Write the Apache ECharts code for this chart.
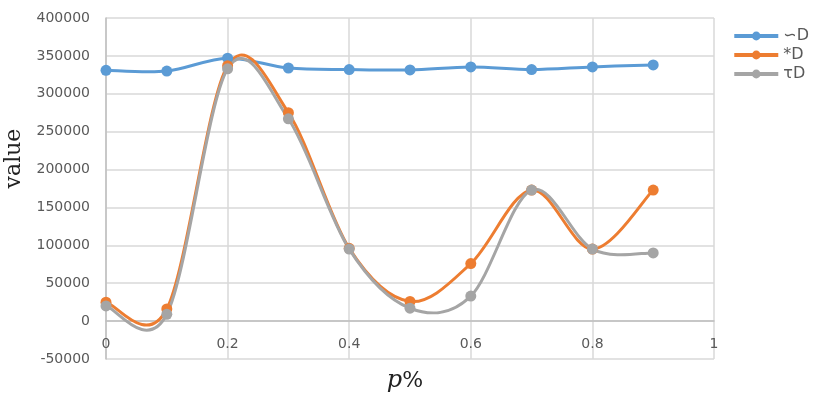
<!DOCTYPE html>
<html>
<head>
<meta charset="utf-8">
<script src="https://cdn.jsdelivr.net/npm/echarts@6/dist/echarts.min.js"></script>
<style>
  html, body { margin: 0; padding: 0; background: #fff; }
  #chart { width: 814px; height: 399px; }
</style>
</head>
<body>
<div id="chart"></div>
<script>
  // x positions (p%)
  var pValues = [0, 0.1, 0.2, 0.3, 0.4, 0.5, 0.6, 0.7, 0.8, 0.9];
  var simD = [331000, 330000, 347000, 334000, 332000, 331500, 335500, 332000, 335500, 338000];
  var starD = [25000, 16000, 337000, 275000, 96000, 26000, 76000, 173000, 95000, 173000];
  var tauD = [20000, 9000, 333000, 267000, 95000, 17000, 33000, 173000, 95000, 90000];
  var seriesNames = ['∽D', '*D', 'τD'];
  var colors = ['#5B9BD5', '#ED7D31', '#A5A5A5'];

  function pairs(ys) {
    return pValues.map(function (x, i) { return [x, ys[i]]; });
  }

  // excel style smoothed line: one bezier per segment, control points from neighbours
  function curveSeries(ys, color) {
    var n = ys.length;
    return {
      type: 'custom',
      name: 'curve',
      silent: true,
      data: pairs(ys),
      renderItem: function (params, api) {
        var i = params.dataIndex;
        if (i >= n - 1) return null;
        var pt = function (j) {
          j = Math.max(0, Math.min(n - 1, j));
          return api.coord([pValues[j], ys[j]]);
        };
        var p0 = pt(i - 1), p1 = pt(i), p2 = pt(i + 1), p3 = pt(i + 2);
        return {
          type: 'bezierCurve',
          shape: {
            x1: p1[0], y1: p1[1],
            cpx1: p1[0] + (p2[0] - p0[0]) / 6, cpy1: p1[1] + (p2[1] - p0[1]) / 6,
            cpx2: p2[0] - (p3[0] - p1[0]) / 6, cpy2: p2[1] - (p3[1] - p1[1]) / 6,
            x2: p2[0], y2: p2[1]
          },
          style: { stroke: color, lineWidth: 3, fill: null, lineCap: 'round' }
        };
      }
    };
  }

  var chart = echarts.init(document.getElementById('chart'));
  var allSeries = [];
  [simD, starD, tauD].forEach(function (ys, i) {
    allSeries.push(curveSeries(ys, colors[i]));
    allSeries.push({
      name: seriesNames[i],
      type: 'line',
      symbol: 'circle',
      symbolSize: 11,
      itemStyle: { color: colors[i] },
      lineStyle: { width: 3, opacity: 0 },
      data: pairs(ys)
    });
  });

  chart.setOption({
    animation: false,
    color: colors,
    grid: { left: 106, right: 100, top: 18, bottom: 40, outerBoundsMode: 'none' },
    legend: {
      orient: 'vertical',
      right: 0,
      top: 23,
      width: 84,
      itemWidth: 44,
      itemHeight: 11,
      itemGap: 3,
      lineStyle: { width: 4, opacity: 1 },
      textStyle: { fontSize: 16, color: '#595959', fontFamily: 'DejaVu Sans' },
      data: seriesNames.map(function (s, i) {
        return { name: s, lineStyle: { color: colors[i], width: 4, opacity: 1 } };
      })
    },
    xAxis: {
      type: 'value',
      min: 0,
      max: 1,
      interval: 0.2,
      name: '{i|p}{n|%}',
      nameLocation: 'middle',
      nameGap: 10,
      nameMoveOverlap: false,
      nameTextStyle: {
        padding: [0, 10, 0, 0],
        rich: {
          i: { fontFamily: 'DejaVu Serif', fontStyle: 'italic', fontSize: 24, color: '#222' },
          n: { fontFamily: 'DejaVu Serif', fontSize: 22, color: '#222' }
        }
      },
      axisLine: { onZero: true, lineStyle: { color: '#bfbfbf', width: 1.5 } },
      axisTick: { show: false },
      axisLabel: { color: '#595959', fontSize: 14, fontFamily: 'DejaVu Sans', margin: -22 },
      splitLine: { lineStyle: { color: '#d9d9d9', width: 1.5 } }
    },
    yAxis: {
      type: 'value',
      min: -50000,
      max: 400000,
      interval: 50000,
      name: 'value',
      nameLocation: 'middle',
      nameGap: 76,
      nameTextStyle: { fontFamily: 'DejaVu Serif', fontSize: 22, color: '#222', padding: [0, 0, 0, 60] },
      axisLine: { show: true, lineStyle: { color: '#bfbfbf', width: 1.5 } },
      axisTick: { show: false },
      axisLabel: {
        color: '#595959', fontSize: 14, fontFamily: 'DejaVu Sans', margin: 16,
        formatter: function (v) { return String(v); }
      },
      splitLine: { lineStyle: { color: '#d9d9d9', width: 1.5 } }
    },
    series: allSeries
  });
</script>
</body>
</html>
